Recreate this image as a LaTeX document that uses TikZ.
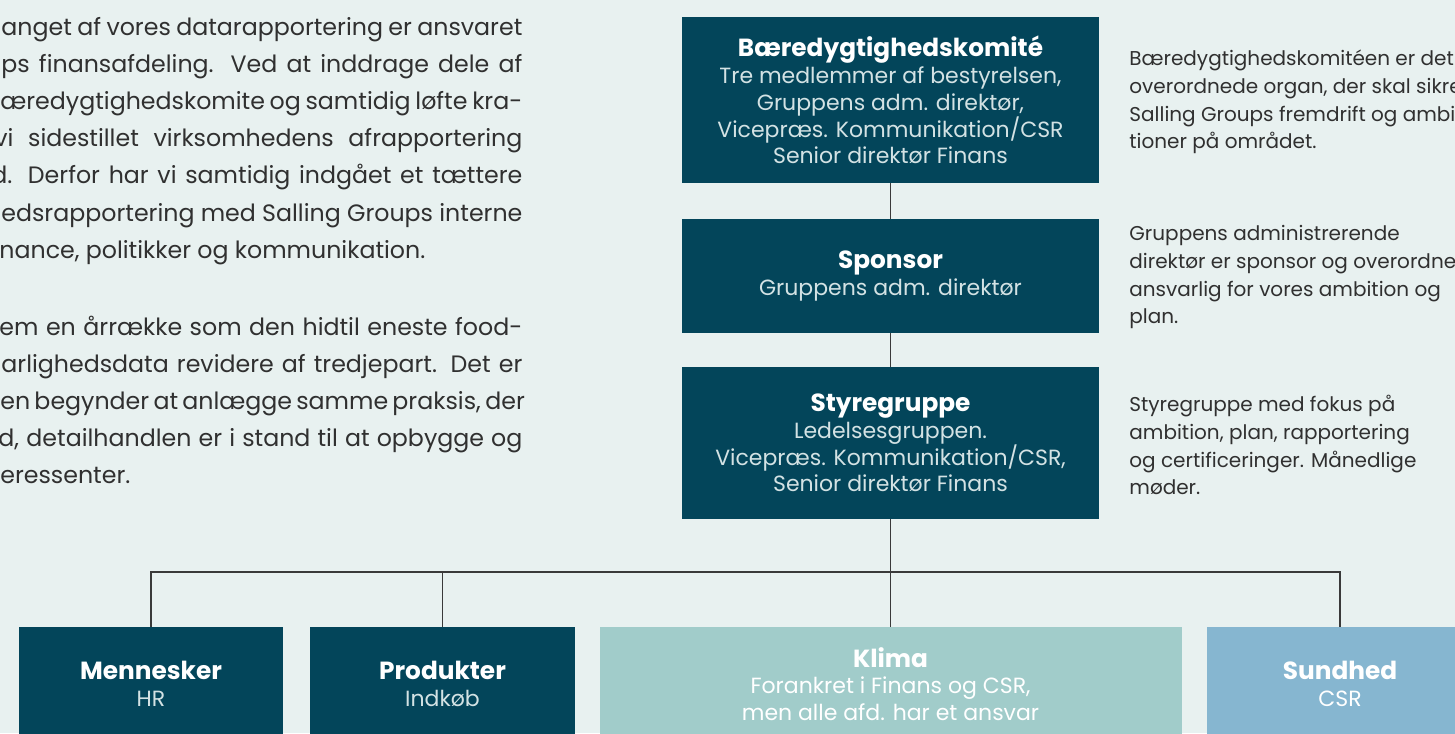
\documentclass[tikz,border=0pt]{standalone}
\usepackage{fontspec}
\setmainfont{Poppins}
\usepackage{xcolor}
\usetikzlibrary{positioning}
\definecolor{bgtone}{HTML}{E8F1F0}
\definecolor{petrol}{HTML}{03455A}
\definecolor{klimatone}{HTML}{A1CCCA}
\definecolor{sundtone}{HTML}{86B6D0}
\definecolor{subtext}{HTML}{D3E2E4}
\definecolor{bodytext}{HTML}{303030}
\definecolor{linetone}{HTML}{3A3A3A}
\newcommand{\boxtitle}[1]{{\fontsize{12.4}{13.4}\selectfont\bfseries\color{white}#1}}

\begin{document}
\begin{tikzpicture}[x=0.5pt, y=-0.5pt,
				orgbox/.style={fill=petrol, text=subtext, inner sep=0pt, align=center,
					font=\fontsize{11}{13.4}\selectfont},
				lightbox/.style={orgbox, text=white},
				bodyline/.style={inner sep=0pt, text=bodytext, anchor=base west,
					font=\fontsize{11.85}{18.5}\selectfont},
				note/.style={inner sep=0pt, text=bodytext, anchor=north west, align=left,
					font=\fontsize{10}{13.9}\selectfont},
				conn/.style={draw=linetone, line width=0.75pt}]
				\useasboundingbox (0,0) rectangle (1455,733);
				\clip (0,0) rectangle (1455,733);
				\fill[bgtone] (0,0) rectangle (1455,733);
				\node[bodyline] (p1) at (1,36) {\makebox[260.5pt][s]{anget af vores datarapportering er ansvaret}};
				\node[bodyline] (p2) at (1,73) {\makebox[260.5pt][s]{ps finansafdeling. Ved at inddrage dele af}};
				\node[bodyline] (p3) at (0,110) {\makebox[261pt][s]{æredygtighedskomite og samtidig løfte kra-}};
				\node[bodyline] (p4) at (-6,147) {\makebox[264pt][s]{vi sidestillet virksomhedens afrapportering}};
				\node[bodyline] (p5) at (-9,184) {\makebox[265.5pt][s]{d. Derfor har vi samtidig indgået et tættere}};
				\node[bodyline] (p6) at (1,221) {\makebox[260.5pt][s]{edsrapportering med Salling Groups interne}};
				\node[bodyline] (p7) at (-1,258) {nance, politikker og kommunikation.};
				\node[bodyline] (q1) at (-1,335) {\makebox[261.5pt][s]{em en årrække som den hidtil eneste food-}};
				\node[bodyline] (q2) at (1,372) {\makebox[260.5pt][s]{arlighedsdata revidere af tredjepart. Det er}};
				\node[bodyline] (q3) at (0,409) {\makebox[261pt][s]{en begynder at anlægge samme praksis, der}};
				\node[bodyline] (q4) at (-2,446) {\makebox[262pt][s]{d, detailhandlen er i stand til at opbygge og}};
				\node[bodyline] (q5) at (0,483) {eressenter.};
				\node[orgbox, minimum width=208.5pt, minimum height=83pt] (komite) at (890.5,100)
					{\boxtitle{Bæredygtighedskomité}\\ Tre medlemmer af bestyrelsen,\\ Gruppens adm. direktør,\\ Vicepræs. Kommunikation/CSR\\ Senior direktør Finans};
				\node[orgbox, minimum width=208.5pt, minimum height=57pt] (sponsor) at (890.5,276)
					{\boxtitle{Sponsor}\\ Gruppens adm. direktør};
				\node[orgbox, minimum width=208.5pt, minimum height=76pt] (styre) at (890.5,443)
					{\boxtitle{Styregruppe}\\ Ledelsesgruppen.\\ Vicepræs. Kommunikation/CSR,\\ Senior direktør Finans};
				\node[note] (n1) at (1129,43) {\rule{0pt}{11pt}Bæredygtighedskomitéen er det\\ overordnede organ, der skal sikre\\ Salling Groups fremdrift og ambi\\ tioner på området.};
				\node[note] (n2) at (1129,218) {\rule{0pt}{11pt}Gruppens administrerende\\ direktør er sponsor og overordne\\ ansvarlig for vores ambition og\\ plan.};
				\node[note] (n3) at (1129,389) {\rule{0pt}{11pt}Styregruppe med fokus på\\ ambition, plan, rapportering\\ og certificeringer. Månedlige\\ møder.};
				\node[orgbox, minimum width=132pt, minimum height=57pt] (mennesker) at (151,684)
					{\boxtitle{Mennesker}\\ HR};
				\node[orgbox, minimum width=132.5pt, minimum height=57pt] (produkter) at (442.5,684)
					{\boxtitle{Produkter}\\ Indkøb};
				\node[lightbox, fill=klimatone, minimum width=291pt, minimum height=57pt] (klima) at (890.5,684)
					{\boxtitle{Klima}\\ Forankret i Finans og CSR,\\ men alle afd. har et ansvar};
				\node[lightbox, fill=sundtone, minimum width=133pt, minimum height=57pt] (sundhed) at (1340,684)
					{\boxtitle{Sundhed}\\ CSR};
				\coordinate (bus) at (890.5,572);
				\draw[conn] (komite) -- (sponsor);
				\draw[conn] (sponsor) -- (styre);
				\draw[conn] (styre) -- (bus);
				\draw[conn] (bus) -| (mennesker);
				\draw[conn] (bus) -| (produkter);
				\draw[conn] (bus) -- (klima);
				\draw[conn] (bus) -| (sundhed);
			\end{tikzpicture}
\end{document}
